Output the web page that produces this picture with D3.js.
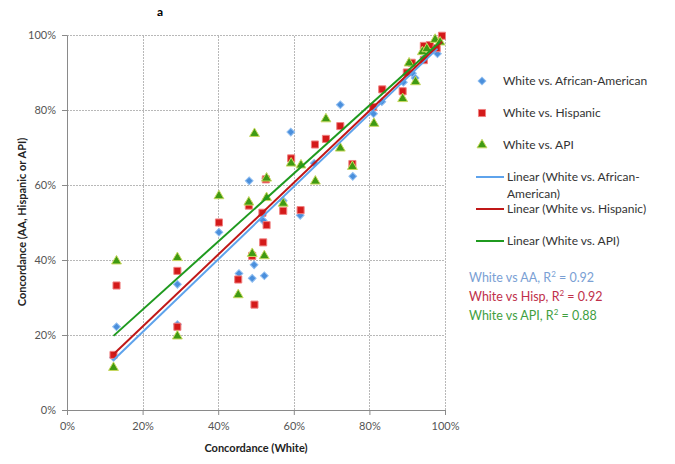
<!DOCTYPE html>
<html><head><meta charset="utf-8">
<script src="https://cdn.jsdelivr.net/npm/d3@7"></script>
<style>body{margin:0;background:#fff}svg{display:block}text{font-family:Lato,"Open Sans",sans-serif}</style>
</head><body>
<svg id="c" width="675" height="464"></svg>
<script>
// Data (percent values, White concordance x vs group concordance y)
const seriesNames = ["White vs. African-American","White vs. Hispanic","White vs. API"];
const aaPoints = [[12.3,14.0],[13.1,22.2],[29.2,22.8],[29.2,33.5],[40.2,47.4],[45.5,36.4],[48.2,61.1],[49.0,35.1],[49.5,38.7],[51.9,50.5],[52.2,35.8],[52.6,61.8],[57.2,55.8],[59.2,74.1],[61.7,51.9],[65.4,65.8],[72.3,81.4],[75.6,62.3],[81.1,79.0],[83.3,82.2],[89.0,87.4],[91.4,89.8],[92.1,88.5],[94.5,94.0],[96.5,96.0],[98.0,95.0]];
const hispPoints = [[12.3,14.7],[13.1,33.2],[29.2,22.2],[29.2,37.1],[40.2,50.0],[45.3,34.8],[48.1,54.5],[49.0,41.1],[49.6,28.1],[51.9,44.7],[51.7,52.6],[52.8,49.3],[52.6,61.5],[57.2,53.1],[59.3,67.1],[61.8,53.3],[65.6,70.8],[68.5,72.3],[72.3,75.7],[75.5,65.6],[81.0,80.8],[83.4,85.5],[88.8,85.0],[89.9,90.0],[91.2,92.6],[94.4,93.3],[94.4,97.1],[96.0,97.3],[97.8,96.5],[99.2,99.8]];
const apiPoints = [[12.3,11.3],[13.1,39.7],[29.2,19.7],[29.2,40.6],[40.2,57.1],[45.3,30.7],[48.1,55.4],[49.0,41.7],[49.6,73.7],[52.2,41.1],[52.8,56.6],[52.8,61.8],[57.2,55.1],[59.3,65.8],[61.9,65.3],[65.7,61.0],[68.5,77.6],[72.3,69.8],[75.5,64.9],[81.2,76.4],[88.8,83.0],[90.5,92.5],[92.2,87.5],[94.0,95.5],[95.2,96.3],[97.4,98.8],[98.7,98.1]];
// Linear fits: [slope, intercept(%)]
const fits = [[0.969,1.4],[0.9586,3.1],[0.908,8.6]];
const fitNames = ["Linear (White vs. African-American)","Linear (White vs. Hispanic)","Linear (White vs. API)"];
const r2Labels = ["White vs AA, R","White vs Hisp, R","White vs API, R"];
const r2Values = ["0.92","0.92","0.88"];
const tickValues = [0,20,40,60,80,100];

const markerColors = ["#4a8fdc","#d41a1a","#3f9a12"];
const markerStroke = ["#8fbdf0","#f08080","#c8d860"];
const lineColors = ["#5ea3ec","#c01818","#1f9a1f"];
const r2Colors = ["#7aa0d4","#c0304a","#3fa03f"];

const svg = d3.select("#c");
const x = d3.scaleLinear().domain([0,100]).range([67,445]);
const y = d3.scaleLinear().domain([0,100]).range([410,35]);

// gridlines
const g = svg.append("g");
g.selectAll(".hg").data(tickValues.filter(v=>v>0)).join("line")
  .attr("x1",x(0)).attr("x2",x(100)).attr("y1",d=>y(d)+0.5).attr("y2",d=>y(d)+0.5)
  .attr("stroke","#b8b8b8").attr("stroke-dasharray","2,1");
g.selectAll(".vg").data(tickValues.filter(v=>v>0)).join("line")
  .attr("y1",y(0)).attr("y2",y(100)).attr("x1",d=>Math.round(x(d))+0.5).attr("x2",d=>Math.round(x(d))+0.5)
  .attr("stroke","#b8b8b8").attr("stroke-dasharray","2,1");

// axes
const fmt = d=>d+"%";
const yAxis = svg.append("g").attr("transform",`translate(${x(0)},0)`)
  .call(d3.axisLeft(y).tickValues(tickValues).tickFormat(fmt).tickSizeInner(5).tickSizeOuter(0).tickPadding(6));
const xAxis = svg.append("g").attr("transform",`translate(0,${y(0)})`)
  .call(d3.axisBottom(x).tickValues(tickValues).tickFormat(fmt).tickSizeInner(5).tickSizeOuter(0).tickPadding(7));
[yAxis,xAxis].forEach(a=>{
  a.selectAll("path,line").attr("stroke","#8a8a8a");
  a.selectAll("text").attr("fill","#555").style("font-size","11px").style("font-family","Lato,sans-serif");
});

// markers
const sym = [d3.symbolSquare, d3.symbolSquare, d3.symbolTriangle];
const sizes = [30,50,42];
const mk = i => d3.symbol(sym[i],sizes[i]);
const allPts = [aaPoints,hispPoints,apiPoints];
allPts.forEach((pts,i)=>{
  svg.append("g").selectAll("path").data(pts).join("path")
    .attr("d",mk(i))
    .attr("transform",d=>`translate(${x(d[0])},${y(d[1])})`+(i===0?" rotate(45)":"") )
    .attr("fill",markerColors[i]).attr("stroke",markerStroke[i]).attr("stroke-width",1);
});

// trend lines
fits.forEach((f,i)=>{
  const xs = d3.extent(allPts[i],d=>d[0]);
  svg.append("line")
    .attr("x1",x(xs[0])).attr("y1",y(f[0]*xs[0]+f[1]))
    .attr("x2",x(xs[1])).attr("y2",y(f[0]*xs[1]+f[1]))
    .attr("stroke",lineColors[i]).attr("stroke-width",2);
});

// title and axis titles
svg.append("text").attr("x",160).attr("y",16).attr("text-anchor","middle")
  .style("font-weight","bold").style("font-size","12px").text("a");
svg.append("text").attr("x",256).attr("y",452).attr("text-anchor","middle")
  .style("font-weight","bold").style("font-size","11px").attr("fill","#222").text("Concordance (White)");
svg.append("text").attr("transform","translate(26,222) rotate(-90)").attr("text-anchor","middle")
  .style("font-weight","bold").style("font-size","11px").attr("fill","#222").text("Concordance (AA, Hispanic or API)");

// legend
const lg = svg.append("g").style("font-size","12px").attr("fill","#333");
const mY = [81,113,145];
seriesNames.forEach((n,i)=>{
  lg.append("path").attr("d",mk(i))
    .attr("transform",`translate(482,${mY[i]})`+(i===0?" rotate(45)":""))
    .attr("fill",markerColors[i]).attr("stroke",markerStroke[i]);
  lg.append("text").attr("x",503).attr("y",mY[i]+4).text(n);
});
const lY = [177,209,241];
fitNames.forEach((n,i)=>{
  lg.append("line").attr("x1",476).attr("x2",504).attr("y1",lY[i]).attr("y2",lY[i])
    .attr("stroke",lineColors[i]).attr("stroke-width",2);
  if(i===0){
    lg.append("text").attr("x",507).attr("y",lY[i]+4).text("Linear (White vs. African-");
    lg.append("text").attr("x",507).attr("y",lY[i]+21).text("American)");
  } else {
    lg.append("text").attr("x",507).attr("y",lY[i]+4).text(n);
  }
});
const rY = [278,297,316];
r2Labels.forEach((n,i)=>{
  const t = svg.append("text").attr("x",469).attr("y",rY[i]+4).style("font-size","12.5px").attr("fill",r2Colors[i]);
  t.append("tspan").text(n);
  t.append("tspan").attr("dy",-5).style("font-size","8px").text("2");
  t.append("tspan").attr("dy",5).text(" = "+r2Values[i]);
});
</script>
</body></html>
